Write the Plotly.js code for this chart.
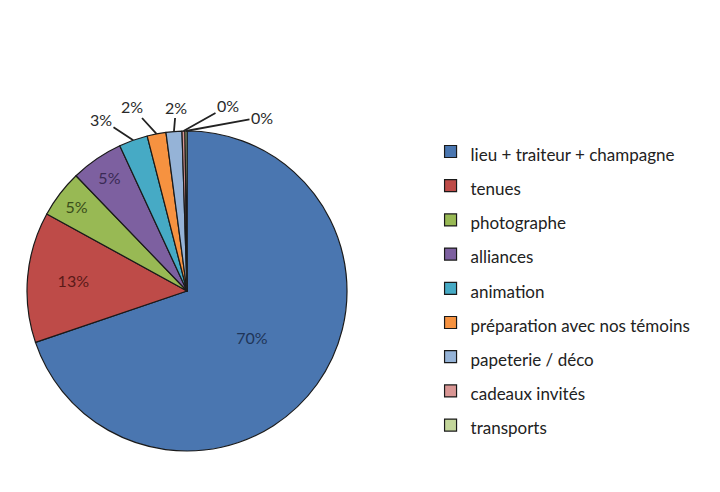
<!DOCTYPE html>
<html>
<head>
<meta charset="utf-8">
<script src="https://cdn.plot.ly/plotly-3.0.1.min.js"></script>
<style>
  body { margin: 0; background: #fff; }
  #chart { width: 720px; height: 492px; }
</style>
</head>
<body>
<div id="chart"></div>
<script>
// budget categories (legend order = slice order, clockwise from 12 o'clock)
let categories = ["lieu + traiteur + champagne", "tenues", "photographe", "alliances", "animation",
    "préparation avec nos témoins", "papeterie / déco", "cadeaux invités", "transports"];
let shares = [69.8, 13.2, 4.8, 5.3, 2.9, 1.9, 1.6, 0.3, 0.2];
let sliceColors = ["#4A76B0", "#BE4B48", "#98B954", "#7D60A0", "#46AAC5", "#F69240", "#95B3D7", "#D99694", "#C3D69B"];
let labelColors = ["#1F3558", "#5A1A18", "#3A4D1A", "#3A2A55", "#333", "#333", "#333", "#333", "#333"];
// small slices get their label outside with a leader line (pixel positions of the label text)
let outsideLabelPos = [null, null, null, null, [101, 119], [132, 107], [176, 107], [228, 106], [262, 117]];

// pie geometry in pixels
let cx = 187, cy = 291, r = 160;
let W = 720, H = 492;

let total = shares.reduce((a, b) => a + b, 0);
let textPos = shares.map((v, i) => outsideLabelPos[i] ? "none" : "inside");

// leader line annotations for the small slices
let annotations = [];
let cum = 0;
shares.forEach((v, i) => {
    let mid = (cum + v / 2) / total * 2 * Math.PI; // clockwise from top
    cum += v;
    if (!outsideLabelPos[i]) return;
    let px = cx + r * Math.sin(mid);
    let py = cy - r * Math.cos(mid);
    annotations.push({
        x: px / W, y: 1 - py / H, xref: "paper", yref: "paper",
        text: Math.round(v / total * 100) + "%",
        showarrow: true, arrowhead: 0, arrowwidth: 1.8, arrowcolor: "#222",
        ax: outsideLabelPos[i][0] - px, ay: outsideLabelPos[i][1] - py,
        font: { family: "Lato, sans-serif", size: 16, color: "#2a2a2a" }
    });
});

let pieData = [{
    type: "pie",
    labels: categories.map(c => '<span style="font-size:17px">' + c + '</span>'),
    values: shares,
    sort: false,
    direction: "clockwise",
    rotation: 0,
    textinfo: "percent",
    texttemplate: "%{percent:.0%}",
    textposition: textPos,
    insidetextorientation: "horizontal",
    insidetextfont: { family: "Lato, sans-serif", size: 16, color: labelColors },
    marker: {
        colors: sliceColors,
        line: { color: "#1a1a1a", width: 1.2 }
    },
    domain: { x: [(cx - r) / W, (cx + r) / W], y: [1 - (cy + r) / H, 1 - (cy - r) / H] },
    hoverinfo: "label+percent"
}];

let pieLayout = {
    width: W,
    height: H,
    margin: { l: 0, r: 0, t: 0, b: 0 },
    paper_bgcolor: "#fff",
    showlegend: true,
    legend: {
        x: 0.598, y: 0.737, xanchor: "left", yanchor: "top",
        font: { family: "Lato, sans-serif", size: 24, color: "#222" },
        bgcolor: "rgba(0,0,0,0)"
    },
    annotations: annotations
};

Plotly.newPlot("chart", pieData, pieLayout, { displayModeBar: false, staticPlot: true });
</script>
</body>
</html>
